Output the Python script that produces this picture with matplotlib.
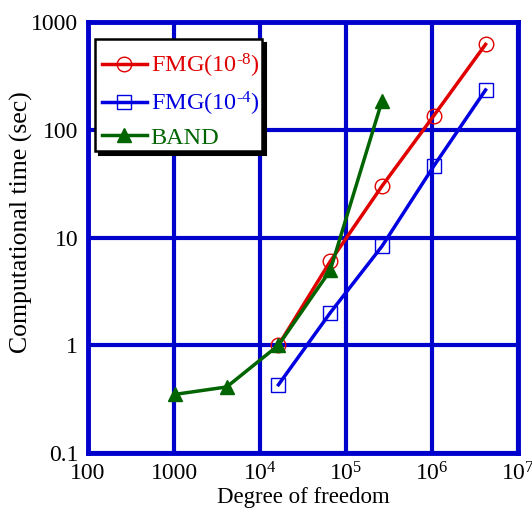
import matplotlib
matplotlib.use("Agg")
import matplotlib.pyplot as plt
from matplotlib.patches import Rectangle
import numpy as np

plt.rcParams['font.family'] = ['Liberation Serif', 'DejaVu Serif']
plt.rcParams['mathtext.fontset'] = 'custom'
plt.rcParams['mathtext.rm'] = 'Liberation Serif'
plt.rcParams['mathtext.it'] = 'Liberation Serif:italic'

dof_fmg = [16384, 65536, 262144, 1048576, 4194304]
t_fmg8 = [1.0, 6.0, 30.0, 135.0, 620.0]
t_fmg4 = [0.43, 2.0, 8.3, 46.0, 234.0]
dof_band = [1024, 4096, 16384, 65536, 262144]
t_band = [0.35, 0.41, 1.0, 4.95, 185.0]

xticks = [100, 1000, 1e4, 1e5, 1e6, 1e7]
xticklabels = ['100', '1000', r'10$^{4}$', r'10$^{5}$', r'10$^{6}$', r'10$^{7}$']
yticks = [0.1, 1, 10, 100, 1000]
yticklabels = ['0.1', '1', '10', '100', '1000']

blue = '#0000CC'
W, H = 532, 516
fig = plt.figure(figsize=(5.32, 5.16), dpi=100)
L, R, T, B = 88, 518, 22, 453
ax = fig.add_axes([L/W, 1-B/H, (R-L)/W, (B-T)/H])
ax.set_xscale('log')
ax.set_yscale('log')
ax.set_xlim(100, 1e7)
ax.set_ylim(0.1, 1000)

ax.plot(dof_fmg, t_fmg8, color='#E00000', lw=2.5, marker='o', ms=10.5, mfc='none', mec='#E00000', mew=1.0, label=r'FMG(10$^{\text{-8}}$)', zorder=4)
ax.plot(dof_fmg, t_fmg4, color='#0000E0', lw=2.5, marker='s', ms=10.5, mfc='none', mec='#0000E0', mew=1.0, label=r'FMG(10$^{\text{-4}}$)', zorder=4)
ax.plot(dof_band, t_band, color='#006400', lw=2.5, marker='^', ms=10, mfc='#006400', mec='#006400', label='BAND', zorder=5)

ax.set_xticks(xticks)
ax.set_xticklabels(xticklabels)
ax.set_yticks(yticks)
ax.set_yticklabels(yticklabels)
ax.minorticks_off()
ax.tick_params(length=0, labelsize=17, pad=7)
ax.grid(True, which='major', color=blue, lw=3)
ax.set_axisbelow(True)
for s in ax.spines.values():
    s.set_color(blue)
    s.set_linewidth(3.5)

ax.set_xlabel('Degree of freedom', fontsize=16.5, labelpad=1)
ax.set_ylabel('Computational time (sec)', fontsize=18.5)
ax.yaxis.set_label_coords((33 - L) / (R - L), (B - 222) / (B - T))

def axfrac(px, py):
    return (px - L) / (R - L), (B - py) / (B - T)

# legend box with solid shadow
bx0, by0 = axfrac(95, 151)
bx1, by1 = axfrac(262, 39)
sx, sy = 4 / (R - L), 4 / (B - T)
ax.add_patch(Rectangle((bx0 + sx, by0 - sy), bx1 - bx0, by1 - by0, transform=ax.transAxes,
                       facecolor='black', edgecolor='black', lw=1.5, zorder=8))
ax.add_patch(Rectangle((bx0, by0), bx1 - bx0, by1 - by0, transform=ax.transAxes,
                       facecolor='white', edgecolor='black', lw=1.8, zorder=9))

leg = ax.legend(loc='upper left', bbox_to_anchor=axfrac(102, 52), fontsize=17.5,
                labelcolor='linecolor', handlelength=1.85, handletextpad=0.15,
                borderpad=0, labelspacing=0.38, frameon=False, borderaxespad=0)
leg.set_zorder(10)

fig.savefig('out.png', dpi=100)
